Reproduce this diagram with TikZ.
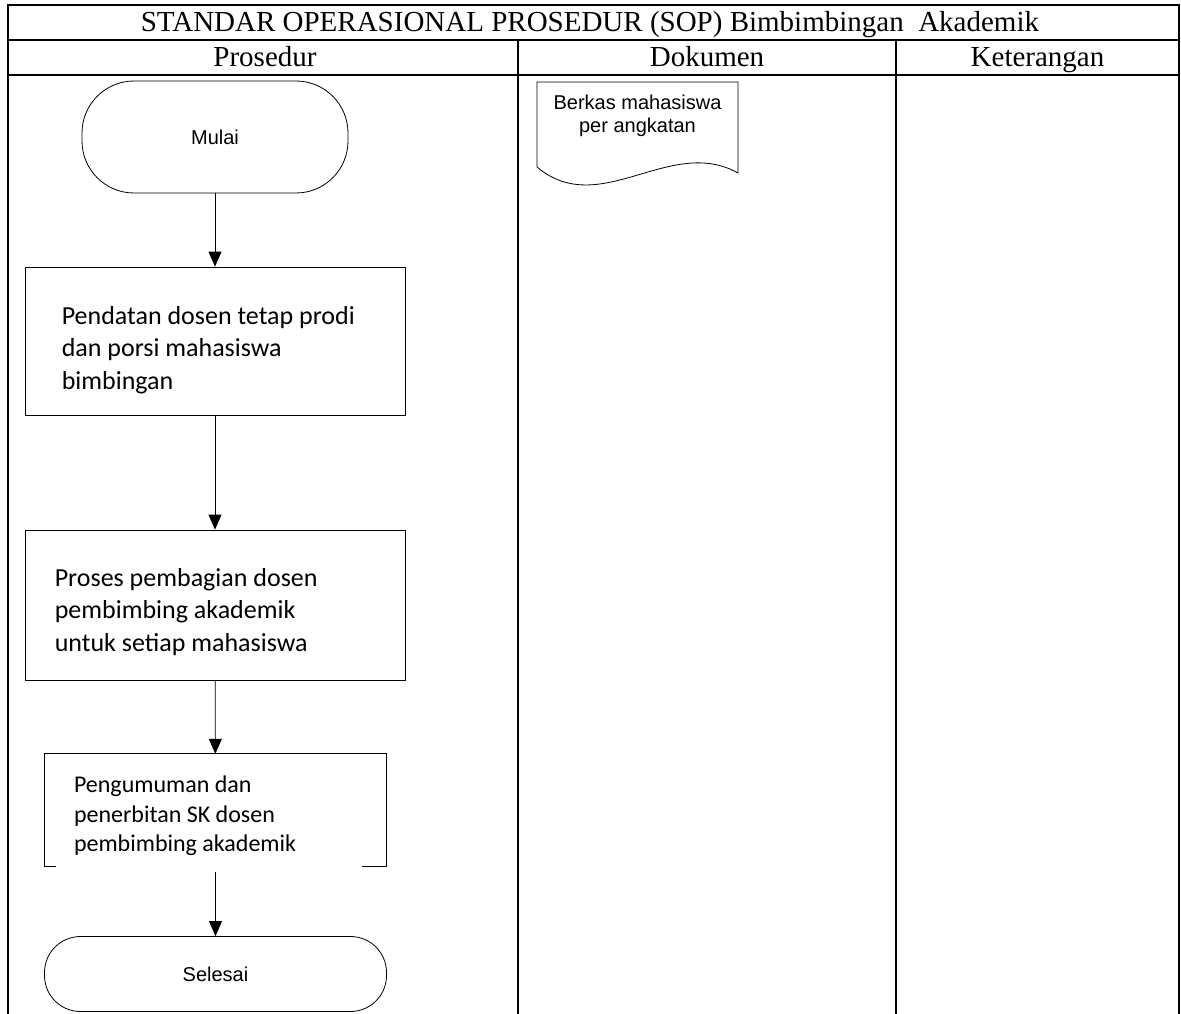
\documentclass[tikz,border=0pt]{standalone}
\usepackage{fontspec}
\setmainfont{Liberation Serif}
\newfontfamily\arialfont{Liberation Sans}
\newfontfamily\calibrifont{Carlito}
\usetikzlibrary{%
	arrows.meta,%
	positioning%
}

\begin{document}
\begin{tikzpicture}[x=1pt,y=-1pt,
	tbl/.style={line width=2pt,line cap=rect},
	head/.style={inner sep=0pt,anchor=base,font=\fontsize{29}{33}\selectfont},
	term/.style={draw,line width=0.8pt,inner sep=0pt,font=\arialfont\fontsize{20}{23}\selectfont},
	proc/.style={draw,line width=0.8pt,inner sep=0pt,minimum width=380pt},
	ptext/.style={align=left,inner sep=0pt,font=\calibrifont\fontsize{26}{32.5}\selectfont},
	arr/.style={line width=0.8pt,-{Triangle[width=13pt,length=15pt]}}
	]
	\useasboundingbox (0,0) rectangle (1181,1014);

	% Table frame
	\draw[tbl] (8,5) -- (1179,5);
	\draw[tbl] (8,40.5) -- (1179,40.5);
	\draw[tbl] (8,75) -- (1179,75);
	\draw[tbl] (8,5) -- (8,1014);
	\draw[tbl] (1179,5) -- (1179,1014);
	\draw[tbl] (518,40.5) -- (518,1014);
	\draw[tbl] (896,40.5) -- (896,1014);

	% Headings
	\node[head] (title) at (590,32) {STANDAR OPERASIONAL PROSEDUR (SOP) Bimbimbingan\ \ Akademik};
	\node[head] (hprosedur) at (265,67) {Prosedur};
	\node[head] (hdokumen) at (707,67) {Dokumen};
	\node[head] (hket) at (1037.5,67) {Keterangan};

	% Flow
	\node[term,minimum width=266pt,minimum height=112pt,rounded corners=52pt] (mulai) at (215,137) {Mulai};
	\node[proc,minimum height=148pt] (b1) at (215,341) {};
	\node[ptext,anchor=west] (t1) at ([xshift=37pt,yshift=-9pt]b1.west) {Pendatan dosen tetap prodi\\dan porsi mahasiswa\\bimbingan};
	\node[proc,minimum height=150pt] (b2) at (215,605) {};
	\node[ptext,anchor=west] (t2) at ([xshift=30pt,yshift=-7pt]b2.west) {Proses pembagian dosen\\pembimbing akademik\\untuk setiap mahasiswa};
	\node[inner sep=0pt,minimum width=341pt,minimum height=112pt] (b3) at (215.5,810) {};
	\draw[line width=0.8pt] ([xshift=11pt]b3.south west) -- (b3.south west) -- (b3.north west)
		-- (b3.north east) -- (b3.south east) -- ([xshift=-24pt]b3.south east);
	\node[ptext,anchor=west,font=\calibrifont\fontsize{24}{29.5}\selectfont] (t3) at ([xshift=29pt,yshift=-6pt]b3.west) {Pengumuman dan\\penerbitan SK dosen\\pembimbing akademik};
	\node[term,minimum width=342pt,minimum height=75pt,rounded corners=36pt] (selesai) at (215.5,974) {Selesai};

	\draw[arr] (mulai) -- (b1);
	\draw[arr] (b1) -- (b2);
	\draw[arr] (b2) -- (b3);
	\draw[arr,shorten <=6pt] (b3) -- (selesai);

	% Document
	\draw[line width=0.8pt] (537,167) -- (537,82) -- (738,82) -- (738,173)
		.. controls (670,135) and (600,220) .. (537,167);
	\node[align=center,inner sep=0pt,font=\arialfont\fontsize{20}{23}\selectfont] (berkas) at (637.5,115.5) {Berkas mahasiswa\\per angkatan};
\end{tikzpicture}
\end{document}
